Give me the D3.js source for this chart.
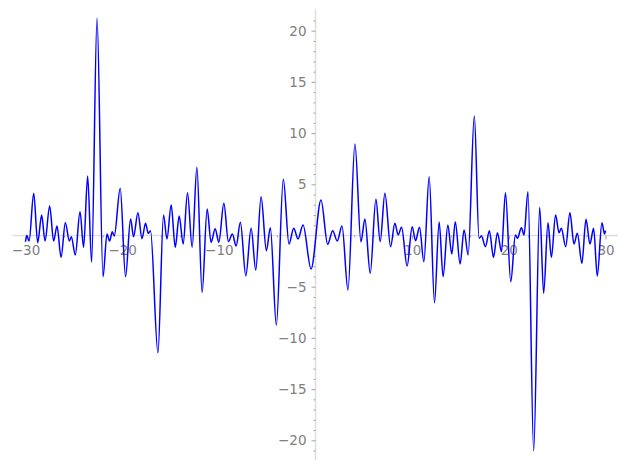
<!DOCTYPE html>
<html>
<head>
<meta charset="utf-8">
<script src="https://cdn.jsdelivr.net/npm/d3@7"></script>
<style>
  body { margin: 0; background: #fff; }
  svg { display: block; }
</style>
</head>
<body>
<svg id="chart"></svg>
<script>
// Dimensioni della finestra
const width = 627;
const height = 470;

// Punti della curva (massimi e minimi locali)
const xVals = [
  -30.0, -29.86, -29.63, -29.15, -28.74, -28.33, -27.98, -27.5, -27.09, -26.74,
  -26.32, -25.88, -25.46, -25.26, -24.85, -24.36, -23.99, -23.57, -23.16, -22.6,
  -21.98, -21.57, -21.3, -21.02, -20.82, -20.2, -19.65, -19.13, -18.82, -18.37,
  -17.95, -17.58, -17.3, -17.07, -16.3, -15.72, -15.37, -14.93, -14.51, -14.1,
  -13.69, -13.24, -12.76, -12.27, -11.73, -11.21, -10.8, -10.38, -10.0, -9.48,
  -9.01, -8.6, -8.21, -7.77, -7.21, -6.66, -6.18, -5.63, -5.08, -4.67,
  -4.05, -3.33, -2.74, -2.25, -1.81, -1.29, -0.46, 0.57, 1.26, 1.78,
  2.25, 2.74, 3.36, 4.08, 4.7, 5.11, 5.66, 6.25, 6.69, 7.18,
  7.77, 8.21, 8.55, 8.9, 9.48, 10.0, 10.35, 10.76, 11.21, 11.76,
  12.31, 12.79, 13.2, 13.69, 14.1, 14.46, 14.96, 15.37, 15.79, 16.43,
  16.92, 17.17, 17.58, 17.99, 18.41, 18.82, 19.24, 19.65, 20.2, 20.68,
  20.89, 21.3, 21.57, 21.98, 22.57, 23.19, 23.6, 24.05, 24.4, 24.84,
  25.19, 25.43, 25.88, 26.32, 26.74, 27.09, 27.56, 27.98, 28.39, 28.77,
  29.15, 29.63, 29.9, 30.0
];
const yVals = [
  -0.61, 0.0, -0.54, 4.12, -0.7, 2.0, -0.54, 2.88, -0.54, 0.93,
  -2.13, 1.25, -0.54, -0.12, -1.9, 2.32, -1.15, 5.81, -2.59, 21.21,
  -4.02, 0.15, -0.54, 0.37, -0.05, 4.61, -4.02, 1.61, -0.12, 2.23,
  -0.31, 1.19, 0.21, 0.47, -11.45, 2.0, -0.34, 2.98, -1.15, 1.9,
  -0.83, 4.18, -1.15, 6.66, -5.55, 2.59, -0.66, 0.66, -0.66, 3.14,
  -0.61, 0.15, -1.03, 1.29, -3.93, 0.7, -3.37, 3.79, -1.48, 0.76,
  -8.74, 5.49, -0.83, 0.7, -0.34, 1.03, -3.27, 3.47, -0.86, 0.47,
  -0.54, 0.93, -5.32, 8.94, -0.61, 1.61, -3.69, 3.54, -0.61, 4.12,
  -1.09, 1.19, 0.05, 0.8, -2.98, 0.86, -0.51, 0.8, -2.56, 5.74,
  -6.56, 1.32, -4.02, 1.03, -1.81, 1.32, -2.78, 0.54, -1.9, 11.67,
  -0.27, -0.05, -1.09, 0.47, -2.13, 0.27, -1.58, 4.18, -4.51, 0.05,
  -0.27, 0.76, 0.05, 4.28, -21.04, 2.75, -5.64, 1.25, -2.13, 2.0,
  0.27, 0.7, -1.09, 2.23, -0.83, 0.21, -2.71, 1.58, -0.83, 0.7,
  -3.96, 1.25, 0.15, 0.47
];

// Tacche e etichette degli assi
const xMajorTicks = [-30, -20, -10, 10, 20, 30];
const xMinorTicks = d3.range(-30, 31, 2).filter(d => d % 10 !== 0);
const yMajorTicks = [-20, -15, -10, -5, 5, 10, 15, 20];
const yMinorTicks = d3.range(-21, 22, 1).filter(d => d % 5 !== 0);

// Estensione delle linee degli assi
const xAxisExtent = [-31.35, 31.3];
const yAxisExtent = [-21.93, 22.09];

const axisColor = "#dedede";
const tickColor = "#8c8c8c";
const labelColor = "#808080";

const svg = d3.select("#chart")
  .attr("width", width)
  .attr("height", height)
  .attr("viewBox", [0, 0, width, height]);

// Scale
const x = d3.scaleLinear().domain([-30, 30]).range([25.5, 605.5]);
const y = d3.scaleLinear().domain([-20, 20]).range([440.3, 30.7]);

// Linee degli assi (passano per lo zero)
svg.append("line")
  .attr("x1", x(xAxisExtent[0])).attr("x2", x(xAxisExtent[1]))
  .attr("y1", y(0)).attr("y2", y(0))
  .attr("stroke", axisColor).attr("stroke-width", 1.5);

svg.append("line")
  .attr("x1", x(0)).attr("x2", x(0))
  .attr("y1", y(yAxisExtent[0])).attr("y2", y(yAxisExtent[1]))
  .attr("stroke", axisColor).attr("stroke-width", 1.5);

// Asse x: tacche maggiori con etichette, minori senza
const xAxis = svg.append("g")
  .attr("transform", `translate(0,${y(0)})`)
  .call(d3.axisBottom(x).tickValues(xMajorTicks).tickSize(4).tickPadding(6)
    .tickFormat(d => d3.format("d")(d).replace("-", "\u2212")));

svg.append("g")
  .attr("transform", `translate(0,${y(0)})`)
  .call(d3.axisBottom(x).tickValues(xMinorTicks).tickSize(2).tickFormat(""));

// Asse y
const yAxis = svg.append("g")
  .attr("transform", `translate(${x(0)},0)`)
  .call(d3.axisLeft(y).tickValues(yMajorTicks).tickSize(4).tickPadding(5)
    .tickFormat(d => d3.format("d")(d).replace("-", "\u2212")));

svg.append("g")
  .attr("transform", `translate(${x(0)},0)`)
  .call(d3.axisLeft(y).tickValues(yMinorTicks).tickSize(2).tickFormat(""));

// Stile comune: niente linea di dominio, tacche e testo grigi
svg.selectAll(".domain").remove();
svg.selectAll(".tick line").attr("stroke", tickColor).attr("stroke-width", 0.8);
svg.selectAll(".tick text")
  .attr("fill", labelColor)
  .style("font-family", "'DejaVu Sans', sans-serif")
  .style("font-size", "13.5px");

// Curva
const points = xVals.map((d, i) => [d, yVals[i]]);

const line = d3.line()
  .x(d => x(d[0]))
  .y(d => y(d[1]))
  .curve(d3.curveMonotoneX);

svg.append("path")
  .datum(points)
  .attr("d", line)
  .attr("fill", "none")
  .attr("stroke", "#0000ff")
  .attr("stroke-width", 1.5)
  .attr("stroke-linejoin", "round");
</script>
</body>
</html>
